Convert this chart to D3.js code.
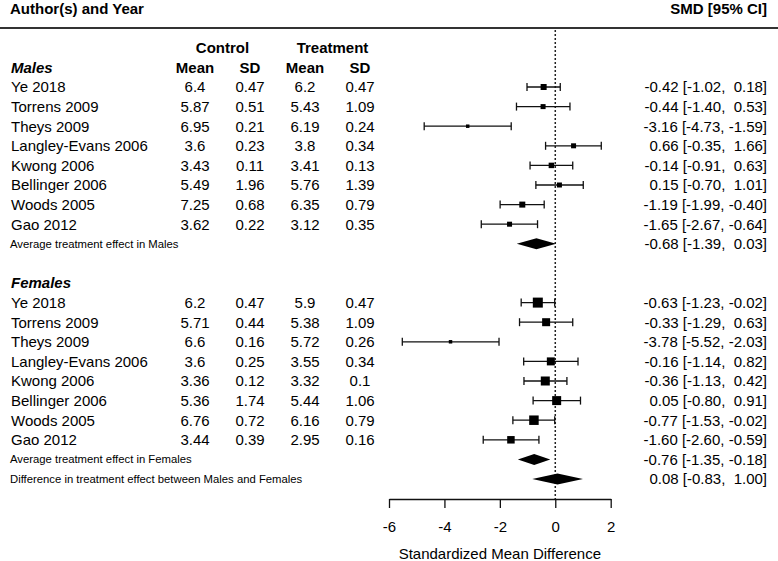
<!DOCTYPE html>
<html>
<head>
<meta charset="utf-8">
<script src="https://cdn.jsdelivr.net/npm/d3@7"></script>
<style>
  html, body { margin: 0; padding: 0; background: #fff; }
  svg { display: block; font-family: "Liberation Sans", Arial, Helvetica, sans-serif; }
  text { white-space: pre; fill: #000; }
</style>
</head>
<body>
<svg id="chart" width="778" height="561"></svg>
<script>
// ---------------- DATA ----------------
const studies = ["Ye 2018", "Torrens 2009", "Theys 2009", "Langley-Evans 2006", "Kwong 2006", "Bellinger 2006", "Woods 2005", "Gao 2012"];

const maleCtrlMean = ["6.4", "5.87", "6.95", "3.6", "3.43", "5.49", "7.25", "3.62"];
const maleCtrlSD   = ["0.47", "0.51", "0.21", "0.23", "0.11", "1.96", "0.68", "0.22"];
const maleTrtMean  = ["6.2", "5.43", "6.19", "3.8", "3.41", "5.76", "6.35", "3.12"];
const maleTrtSD    = ["0.47", "1.09", "0.24", "0.34", "0.13", "1.39", "0.79", "0.35"];
const maleSMD      = [-0.42, -0.44, -3.16, 0.66, -0.14, 0.15, -1.19, -1.65];
const maleLower    = [-1.02, -1.40, -4.73, -0.35, -0.91, -0.70, -1.99, -2.67];
const maleUpper    = [0.18, 0.53, -1.59, 1.66, 0.63, 1.01, -0.40, -0.64];
const maleWeight   = [3.6, 2.5, 1.2, 2.5, 3.0, 2.5, 3.6, 2.5];

const femaleCtrlMean = ["6.2", "5.71", "6.6", "3.6", "3.36", "5.36", "6.76", "3.44"];
const femaleCtrlSD   = ["0.47", "0.44", "0.16", "0.25", "0.12", "1.74", "0.72", "0.39"];
const femaleTrtMean  = ["5.9", "5.38", "5.72", "3.55", "3.32", "5.44", "6.16", "2.95"];
const femaleTrtSD    = ["0.47", "1.09", "0.26", "0.34", "0.1", "1.06", "0.79", "0.16"];
const femaleSMD      = [-0.63, -0.33, -3.78, -0.16, -0.36, 0.05, -0.77, -1.60];
const femaleLower    = [-1.23, -1.29, -5.52, -1.14, -1.13, -0.80, -1.53, -2.60];
const femaleUpper    = [-0.02, 0.63, -2.03, 0.82, 0.42, 0.91, -0.02, -0.59];
const femaleWeight   = [10, 6.4, 1.2, 6.4, 8.1, 8.1, 9.0, 5.6];

const summaryLabels = ["Average treatment effect in Males", "Average treatment effect in Females", "Difference in treatment effect between Males and Females"];
const summaryEst    = [-0.68, -0.76, 0.08];
const summaryLower  = [-1.39, -1.35, -0.83];
const summaryUpper  = [0.03, -0.18, 1.00];

const xTicks = [-6, -4, -2, 0, 2];
const xTitle = "Standardized Mean Difference";

// ---------------- LAYOUT ----------------
const svg = d3.select("#chart");
const W = 778, H = 561;
const x = d3.scaleLinear().domain([-6, 2]).range([389, 610.7]);
const y = d3.scaleLinear().domain([0, 1]).range([87, 106.6]); // row index -> y center
const size = d3.scaleSqrt().domain([0, 10]).range([0, 10]);
const fmt = d3.format(".2f");
const clean = s => s.replace("−", "-");
const fnum = v => (v < 0 ? "" : " ") + clean(fmt(v));
const ciText = (e, l, u) => clean(fmt(e)) + " [" + clean(fmt(l)) + ", " + fnum(u) + "]";

const FS = 15;
const FSS = 11.3;
const colX = [195, 250, 305, 360];
const rightX = 767;
const dy = 5.3;

// Build row list
const rows = [];
studies.forEach((s, i) => rows.push({type: "study", row: i, name: s,
  cols: [maleCtrlMean[i], maleCtrlSD[i], maleTrtMean[i], maleTrtSD[i]],
  est: maleSMD[i], lo: maleLower[i], hi: maleUpper[i], w: maleWeight[i]}));
rows.push({type: "summary", row: 8, name: summaryLabels[0], est: summaryEst[0], lo: summaryLower[0], hi: summaryUpper[0]});
studies.forEach((s, i) => rows.push({type: "study", row: 11 + i, name: s,
  cols: [femaleCtrlMean[i], femaleCtrlSD[i], femaleTrtMean[i], femaleTrtSD[i]],
  est: femaleSMD[i], lo: femaleLower[i], hi: femaleUpper[i], w: femaleWeight[i]}));
rows.push({type: "summary", row: 19, name: summaryLabels[1], est: summaryEst[1], lo: summaryLower[1], hi: summaryUpper[1]});
rows.push({type: "summary", row: 20, name: summaryLabels[2], est: summaryEst[2], lo: summaryLower[2], hi: summaryUpper[2]});

// ---------------- HEADER ----------------
svg.append("text").attr("x", 10).attr("y", 13.5).attr("font-size", FS).attr("font-weight", "bold").text("Author(s) and Year");
svg.append("text").attr("x", rightX).attr("y", 13.5).attr("text-anchor", "end").attr("font-size", FS).attr("font-weight", "bold").text("SMD [95% CI]");
svg.append("line").attr("x1", 0).attr("x2", W).attr("y1", 28).attr("y2", 28).attr("stroke", "#333").attr("stroke-width", 2);

// column group headers
svg.append("text").attr("x", (colX[0] + colX[1]) / 2).attr("y", y(-2) + dy).attr("text-anchor", "middle").attr("font-size", FS).attr("font-weight", "bold").text("Control");
svg.append("text").attr("x", (colX[2] + colX[3]) / 2).attr("y", y(-2) + dy).attr("text-anchor", "middle").attr("font-size", FS).attr("font-weight", "bold").text("Treatment");
["Mean", "SD", "Mean", "SD"].forEach((t, i) => {
  svg.append("text").attr("x", colX[i]).attr("y", y(-1) + dy).attr("text-anchor", "middle").attr("font-size", FS).attr("font-weight", "bold").text(t);
});
svg.append("text").attr("x", 11).attr("y", y(-1) + dy).attr("font-size", FS).attr("font-weight", "bold").attr("font-style", "italic").text("Males");
svg.append("text").attr("x", 11).attr("y", y(10) + dy).attr("font-size", FS).attr("font-weight", "bold").attr("font-style", "italic").text("Females");

// ---------------- ZERO LINE ----------------
svg.append("line").attr("x1", x(0)).attr("x2", x(0)).attr("y1", 30).attr("y2", 499)
  .attr("stroke", "#222").attr("stroke-width", 1.5).attr("stroke-dasharray", "2,2");

// ---------------- ROWS ----------------
const g = svg.append("g");
rows.forEach(d => {
  const cy = y(d.row);
  if (d.type === "study") {
    g.append("text").attr("x", 11).attr("y", cy + dy).attr("font-size", FS).text(d.name);
    d.cols.forEach((c, i) => g.append("text").attr("x", colX[i]).attr("y", cy + dy).attr("text-anchor", "middle").attr("font-size", FS).text(c));
    g.append("line").attr("x1", x(d.lo)).attr("x2", x(d.hi)).attr("y1", cy).attr("y2", cy).attr("stroke", "#111").attr("stroke-width", 1.3);
    [d.lo, d.hi].forEach(v => g.append("line").attr("x1", x(v)).attr("x2", x(v)).attr("y1", cy - 4).attr("y2", cy + 4).attr("stroke", "#111").attr("stroke-width", 1.3));
    const s = size(d.w);
    g.append("rect").attr("x", x(d.est) - s / 2).attr("y", cy - s / 2).attr("width", s).attr("height", s).attr("fill", "#000");
  } else {
    g.append("text").attr("x", 10).attr("y", cy + 4).attr("font-size", FSS).text(d.name);
    const h = 5.5;
    g.append("path").attr("d", `M${x(d.lo)},${cy}L${x(d.est)},${cy - h}L${x(d.hi)},${cy}L${x(d.est)},${cy + h}Z`).attr("fill", "#000");
  }
  g.append("text").attr("x", rightX).attr("y", cy + dy).attr("text-anchor", "end").attr("font-size", FS).text(ciText(d.est, d.lo, d.hi));
});

// ---------------- AXIS ----------------
const axis = d3.axisBottom(x).tickValues(xTicks).tickSize(9).tickSizeOuter(0).tickPadding(13).tickFormat(d3.format("d"));
const ax = svg.append("g").attr("transform", "translate(0,499)").call(axis);
ax.selectAll("path, line").attr("stroke", "#111").attr("stroke-width", 1.3);
ax.selectAll("text").attr("font-size", FS).attr("font-family", "'Liberation Sans', Arial, sans-serif").attr("fill", "#000");
ax.selectAll("text").text(d => String(d));
svg.append("text").attr("x", (x(-6) + x(2)) / 2).attr("y", 559).attr("text-anchor", "middle").attr("font-size", FS).text(xTitle);
</script>
</body>
</html>
